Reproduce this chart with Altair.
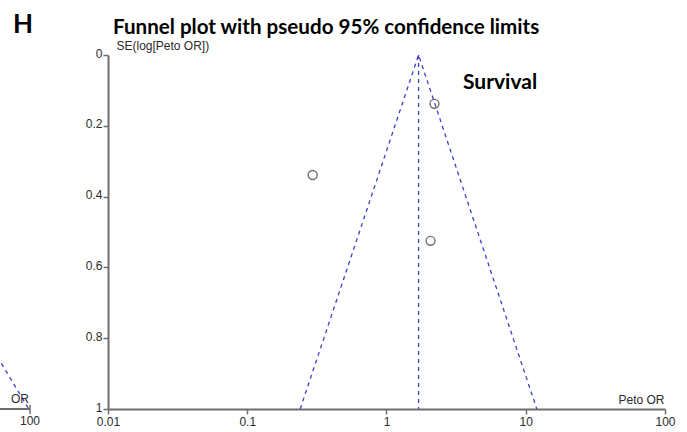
import altair as alt
import pandas as pd

# Study points (Peto OR, SE of log Peto OR)
study_or = [2.21, 0.295, 2.07]
study_se = [0.138, 0.339, 0.525]

# Pseudo 95% confidence funnel (left limit, apex, right limit)
funnel_or = [0.24, 1.70, 12.0]
funnel_se = [1.0, 0.0, 1.0]
center_or = [1.70, 1.70]
center_se = [0.0, 1.0]

# Fragment of neighbouring panel (its right edge)
nb_or = [24, 98]
nb_se = [0.6, 1.0]
nb_axis_or = [0.0005, 100]

x_ticks = [0.01, 0.1, 1, 10, 100]
y_ticks = [0, 0.2, 0.4, 0.6, 0.8, 1]

W, H = 557, 354
BLUE = "#3d3dcc"
AX = "#6e6e6e"
LBL = "#2b2b2b"
FONT = "Liberation Sans"
FS = 12

xs = alt.Scale(type="log", domain=[0.01, 100], nice=False)
ys = alt.Scale(domain=[0, 1], reverse=True, nice=False, zero=False)

x_axis = alt.Axis(values=x_ticks, format="~g", grid=False, domainColor=AX, domainWidth=2,
                  tickColor=AX, tickWidth=1.5, tickSize=5, labelFont=FONT, labelFontSize=FS,
                  labelColor=LBL, labelPadding=2, labelFlush=False, labelOverlap=False,
                  title="Peto OR", titleFont=FONT, titleFontSize=FS, titleFontWeight="normal",
                  titleColor=LBL, titleX=556, titleY=-3, titleAlign="right", titleBaseline="bottom")
y_axis = alt.Axis(values=y_ticks, format="~g", grid=False, domainColor=AX, domainWidth=2,
                  tickColor=AX, tickWidth=1.5, tickSize=5, labelFont=FONT, labelFontSize=FS,
                  labelColor=LBL, labelPadding=1, labelFlush=False, labelOverlap=False,
                  labelOffset=-2,
                  title="SE(log[Peto OR])", titleFont=FONT, titleFontSize=FS, titleFontWeight="normal",
                  titleColor=LBL, titleAngle=0, titleX=8, titleY=-3, titleAlign="left",
                  titleBaseline="bottom")

funnel_df = pd.DataFrame({"or": funnel_or, "se": funnel_se, "o": [0, 1, 2]})
center_df = pd.DataFrame({"or": center_or, "se": center_se})
pts_df = pd.DataFrame({"or": study_or, "se": study_se})

funnel = alt.Chart(funnel_df).mark_line(color=BLUE, strokeDash=[4, 4], strokeWidth=1.3).encode(
    x=alt.X("or:Q", scale=xs, axis=x_axis),
    y=alt.Y("se:Q", scale=ys, axis=y_axis),
    order="o:Q",
)
center = alt.Chart(center_df).mark_line(color=BLUE, strokeDash=[4, 4], strokeWidth=1.3).encode(
    x=alt.X("or:Q", scale=xs), y=alt.Y("se:Q", scale=ys)
)
pts = alt.Chart(pts_df).mark_point(shape="circle", filled=False, color="#333333", size=80,
                                   strokeWidth=1.4).encode(
    x=alt.X("or:Q", scale=xs), y=alt.Y("se:Q", scale=ys)
)

main = alt.layer(funnel, center, pts)

# neighbouring panel fragment with its own x scale
nxs = alt.Scale(type="log", domain=[0.01, 100], range=[-635, -78], nice=False)
nb_df = pd.DataFrame({"or": nb_or, "se": nb_se})
nb_line = alt.Chart(nb_df).mark_line(color=BLUE, strokeDash=[4, 4], strokeWidth=1.3, clip=False).encode(
    x=alt.X("or:Q", scale=nxs, axis=None), y=alt.Y("se:Q", scale=ys)
)
nb_ax_df = pd.DataFrame({"a": [nb_axis_or[0]], "b": [nb_axis_or[1]], "se": [1.0]})
nb_axis = alt.Chart(nb_ax_df).mark_rule(color=AX, strokeWidth=2, clip=False).encode(
    x=alt.X("a:Q", scale=nxs, axis=None), x2="b:Q", y=alt.Y("se:Q", scale=ys)
)
nb_tick_df = pd.DataFrame({"v": [nb_axis_or[1]], "lab": ["100"]})
nb_tick = alt.Chart(nb_tick_df).mark_rule(color=AX, strokeWidth=1.5, clip=False).encode(
    x=alt.X("v:Q", scale=nxs, axis=None), y=alt.value(H - 4), y2=alt.value(H + 5)
)
nb_lab = alt.Chart(nb_tick_df).mark_text(font=FONT, fontSize=FS, color=LBL, baseline="top",
                                         clip=False).encode(
    x=alt.X("v:Q", scale=nxs, axis=None), y=alt.value(H + 7), text="lab:N"
)
nb_title = alt.Chart(pd.DataFrame({"v": [nb_axis_or[1]], "t": ["OR"]})).mark_text(
    font=FONT, fontSize=FS, color=LBL, align="right", baseline="bottom", dx=-1, clip=False
).encode(x=alt.X("v:Q", scale=nxs, axis=None), y=alt.value(H - 3), text="t:N")

nb = alt.layer(nb_line, nb_axis, nb_tick, nb_lab, nb_title)

texts_df = pd.DataFrame({"t": ["Funnel plot with pseudo 95% confidence limits"]})
title_txt = alt.Chart(texts_df).mark_text(font="Lato", fontSize=20.6, fontWeight="bold", color="#000",
                                          align="left", baseline="alphabetic").encode(
    x=alt.value(5), y=alt.value(-21), text="t:N")
h_txt = alt.Chart(pd.DataFrame({"t": ["H"]})).mark_text(font="Lato", fontSize=26, fontWeight="bold",
                                                        color="#000", align="left",
                                                        baseline="alphabetic").encode(
    x=alt.value(-95), y=alt.value(-22), text="t:N")
surv_txt = alt.Chart(pd.DataFrame({"t": ["Survival"]})).mark_text(font="Lato", fontSize=21,
                                                                  fontWeight="bold", color="#000",
                                                                  align="left",
                                                                  baseline="alphabetic").encode(
    x=alt.value(355), y=alt.value(34), text="t:N")

chart = alt.layer(main, nb, title_txt, h_txt, surv_txt).resolve_scale(x="independent").properties(
    width=W, height=H,
    autosize=alt.AutoSizeParams(type="none"),
    padding={"left": 108, "top": 55, "right": 22, "bottom": 23},
    background="white",
).configure_view(stroke=None)

chart.save("out.html", embed_options={"renderer": "svg", "actions": False})
